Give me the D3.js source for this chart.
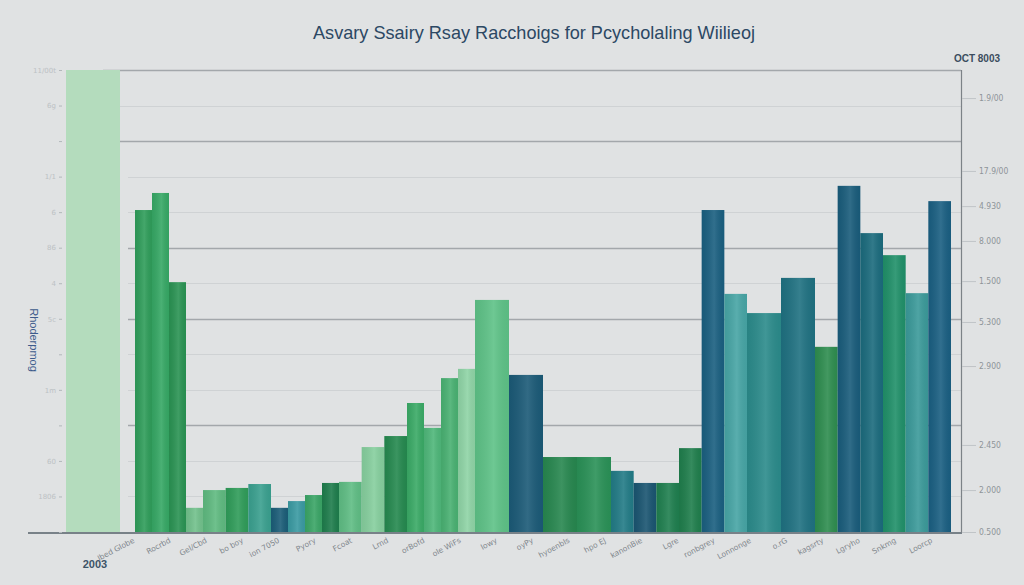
<!DOCTYPE html>
<html>
<head>
<meta charset="utf-8">
<script src="https://cdn.jsdelivr.net/npm/d3@7"></script>
<style>
  html, body { margin: 0; padding: 0; background: #e0e2e3; }
  svg { display: block; }
</style>
</head>
<body>
<svg id="chart" width="1024" height="585"></svg>
<script>
// ---------------- DATA ----------------
const title = "Asvary Ssairy Rsay Racchoigs for Pcycholaling Wiilieoj";
const groups = ["G1","G2","G3","G4","G5","G6","G7","G8","G9","G10","G11","G12"];
const bars = ["A","B","C","D","E","F","G","H","I","J","K","L","M","N","O","P","Q","Q2",
              "R","S","T","U","V","W","X","Y","AA","AB","AC","AD","AE","AF","AG","AH","AI","AJ"];
const barGroup = ["G1","G1","G1","G1","G2","G2","G2","G3","G3","G3","G3","G4","G4","G4",
                  "G5","G5","G5","G5","G6","G6","G7","G7","G8","G8","G8","G9","G9","G9",
                  "G10","G10","G11","G11","G11","G12","G12","G12"];
const values = [9.06, 9.54, 7.03, 0.68, 1.18, 1.24, 1.35, 0.68, 0.87, 1.04, 1.38, 1.41, 2.39, 2.70,
                3.63, 2.93, 4.33, 4.59, 6.53, 4.42, 2.11, 2.11, 1.72, 1.38, 1.38, 2.36, 9.06, 6.70,
                6.16, 7.15, 5.21, 9.74, 8.41, 7.79, 6.72, 9.31];
const benchmarkLabel = ["2003"];
const benchmarkValue = [13];
const xLabels = ["Ibed Globe","Rocrbd","Gel/Cbd","bo boy","ion 7050","Pyory","Fcoat","Lrnd",
                 "orBofd","ole WiFs","lowy","oyPy","hyoenbls","hpo EJ","kanonBie","Lgre",
                 "ronbgrey","Lonnonge","o.rG","kagsrty","Lgryho","Snkmg","Loorcp"];
const leftTicks = [0,1,2,3,4,5,6,7,8,9,10,11,12,13];
const leftTickLabels = ["","1806","60","","1m","","5c","4","86","6","1/1","","6g","11/00t"];
const rightTicks = [0, 1.18, 2.45, 4.67, 5.91, 7.06, 8.19, 9.17, 10.16, 12.21];
const rightTickLabels = ["0.500","2.000","2.450","2.900","5.300","1.500","8.000","4.930","17.9/00","1.9/00"];
const majorGrid = [3, 6, 8, 11, 13];

// ---------------- STYLE ----------------
const barColors = ["#2f9d5a","#36a865","#2a9353","#72c18c","#5fba80","#2f9c59","#3aa08f",
                   "#1b5d78","#3a9aa2","#3aa566","#1e7d4c","#5fbd84","#86cf9e","#25894f",
                   "#3aaa66","#4fb77a","#49b172","#8fd4a6","#5ec287","#1b5a77","#27874f","#2a9157",
                   "#227b86","#1a5571","#1f7f4f","#1f7e4c","#1a5f80","#47a5a5","#2b8b8b","#1f7181",
                   "#2e8d4f","#195c7b","#1b6b7d","#209069","#3b9a9a","#1a5f82"];

const svg = d3.select("#chart");
const defs = svg.append("defs");
const g1 = defs.append("linearGradient").attr("id","shine").attr("x1","0").attr("x2","1").attr("y1","0").attr("y2","0");
g1.append("stop").attr("offset","0").attr("stop-color","#000").attr("stop-opacity",0.06);
g1.append("stop").attr("offset","0.55").attr("stop-color","#fff").attr("stop-opacity",0.10);
g1.append("stop").attr("offset","1").attr("stop-color","#000").attr("stop-opacity",0.04);

svg.append("rect").attr("width",1024).attr("height",585).attr("fill","#e0e2e3");

const baseY = 532, topY = 70;
const y = d3.scaleLinear().domain([0, 13]).range([baseY, topY]);
const x0 = d3.scaleBand().domain(groups).range([135, 951]).padding(0);

// grid lines
svg.append("g").selectAll("line").data(leftTicks.filter(d => d > 0)).join("line")
  .attr("x1", d => d >= 13 ? 103 : (d >= 11 ? 118 : 128))
  .attr("x2", 961)
  .attr("y1", d => Math.round(y(d)) + 0.5).attr("y2", d => Math.round(y(d)) + 0.5)
  .attr("stroke", d => majorGrid.includes(d) ? "#a3a7ab" : "#cfd2d4")
  .attr("stroke-width", d => majorGrid.includes(d) ? 1.3 : 1);

// benchmark band
const xb = d3.scaleBand().domain(benchmarkLabel).range([66, 120]);
svg.append("g").selectAll("rect").data(benchmarkValue).join("rect")
  .attr("x", (d,i) => xb(benchmarkLabel[i])).attr("width", xb.bandwidth())
  .attr("y", d => y(d)).attr("height", d => baseY - y(d))
  .attr("fill", "#b4dcbd");

// bars
const barData = bars.map((b, i) => ({ id: b, group: barGroup[i], value: values[i], color: barColors[i] }));
const inner = {};
groups.forEach(gname => {
  inner[gname] = d3.scaleBand().domain(barData.filter(d => d.group === gname).map(d => d.id))
    .range([0, x0.bandwidth()]).padding(0);
});
const barG = svg.append("g");
barG.selectAll("rect.bar").data(barData).join("rect").attr("class","bar")
  .attr("x", d => x0(d.group) + inner[d.group](d.id))
  .attr("width", d => inner[d.group].bandwidth())
  .attr("y", d => y(d.value)).attr("height", d => baseY - y(d.value))
  .attr("fill", d => d.color);
barG.selectAll("rect.shine").data(barData).join("rect").attr("class","shine")
  .attr("x", d => x0(d.group) + inner[d.group](d.id))
  .attr("width", d => inner[d.group].bandwidth())
  .attr("y", d => y(d.value)).attr("height", d => baseY - y(d.value))
  .attr("fill", "url(#shine)");

// baseline
svg.append("line").attr("x1", 28).attr("x2", 962).attr("y1", baseY + 1).attr("y2", baseY + 1)
  .attr("stroke", "#56606a").attr("stroke-width", 1.4);

// left axis (faint)
const la = svg.append("g").attr("transform", "translate(62,0)")
  .call(d3.axisLeft(y).tickValues(leftTicks).tickSize(3).tickFormat((d,i) => leftTickLabels[i]));
la.select(".domain").remove();
la.selectAll("line").attr("stroke", "#b3b8bb");
la.selectAll("text").attr("fill", "#bcc1c4").style("font-family","DejaVu Sans").style("font-size","7px");

// left rotated label
svg.append("text").attr("transform", "translate(30,340) rotate(90)")
  .attr("text-anchor","middle").attr("fill","#3d5b8c")
  .style("font-family","Liberation Sans").style("font-size","11px").text("Rhoderpmog");

// right axis
svg.append("line").attr("x1", 961.5).attr("x2", 961.5).attr("y1", 70).attr("y2", baseY + 1)
  .attr("stroke", "#7c8287").attr("stroke-width", 1.2);
const ra = svg.append("g").attr("transform", "translate(962,0)")
  .call(d3.axisRight(y).tickValues(rightTicks).tickSize(14).tickPadding(3).tickFormat((d,i) => rightTickLabels[i]));
ra.select(".domain").remove();
ra.selectAll("line").attr("stroke", "#c0c4c7");
ra.selectAll("text").attr("fill", "#8e9499").style("font-family","DejaVu Sans Condensed, DejaVu Sans").style("font-size","8.5px");
svg.append("text").attr("x", 977).attr("y", 62).attr("text-anchor","middle").attr("fill","#3b4d5e")
  .style("font-family","Liberation Sans").style("font-size","10px").style("font-weight","bold").text("OCT 8003");

// title
svg.append("text").attr("x", 534).attr("y", 39).attr("text-anchor","middle").attr("fill","#2c4864")
  .attr("textLength", 442).attr("lengthAdjust","spacingAndGlyphs")
  .style("font-family","Liberation Sans Narrow, Liberation Sans").style("font-size","19px").text(title);

// x labels
const xl = d3.scalePoint().domain(xLabels).range([135, 933]);
svg.append("g").selectAll("text").data(xLabels).join("text")
  .attr("transform", d => `translate(${xl(d)},542) rotate(-28)`)
  .attr("text-anchor","end").attr("fill","#80878d")
  .style("font-family","DejaVu Sans").style("font-size","7.5px").text(d => d);

svg.append("text").attr("x", 95).attr("y", 568).attr("text-anchor","middle").attr("fill","#3d5468")
  .style("font-family","Liberation Sans").style("font-size","11px").style("font-weight","bold").text(benchmarkLabel[0]);
</script>
</body>
</html>
